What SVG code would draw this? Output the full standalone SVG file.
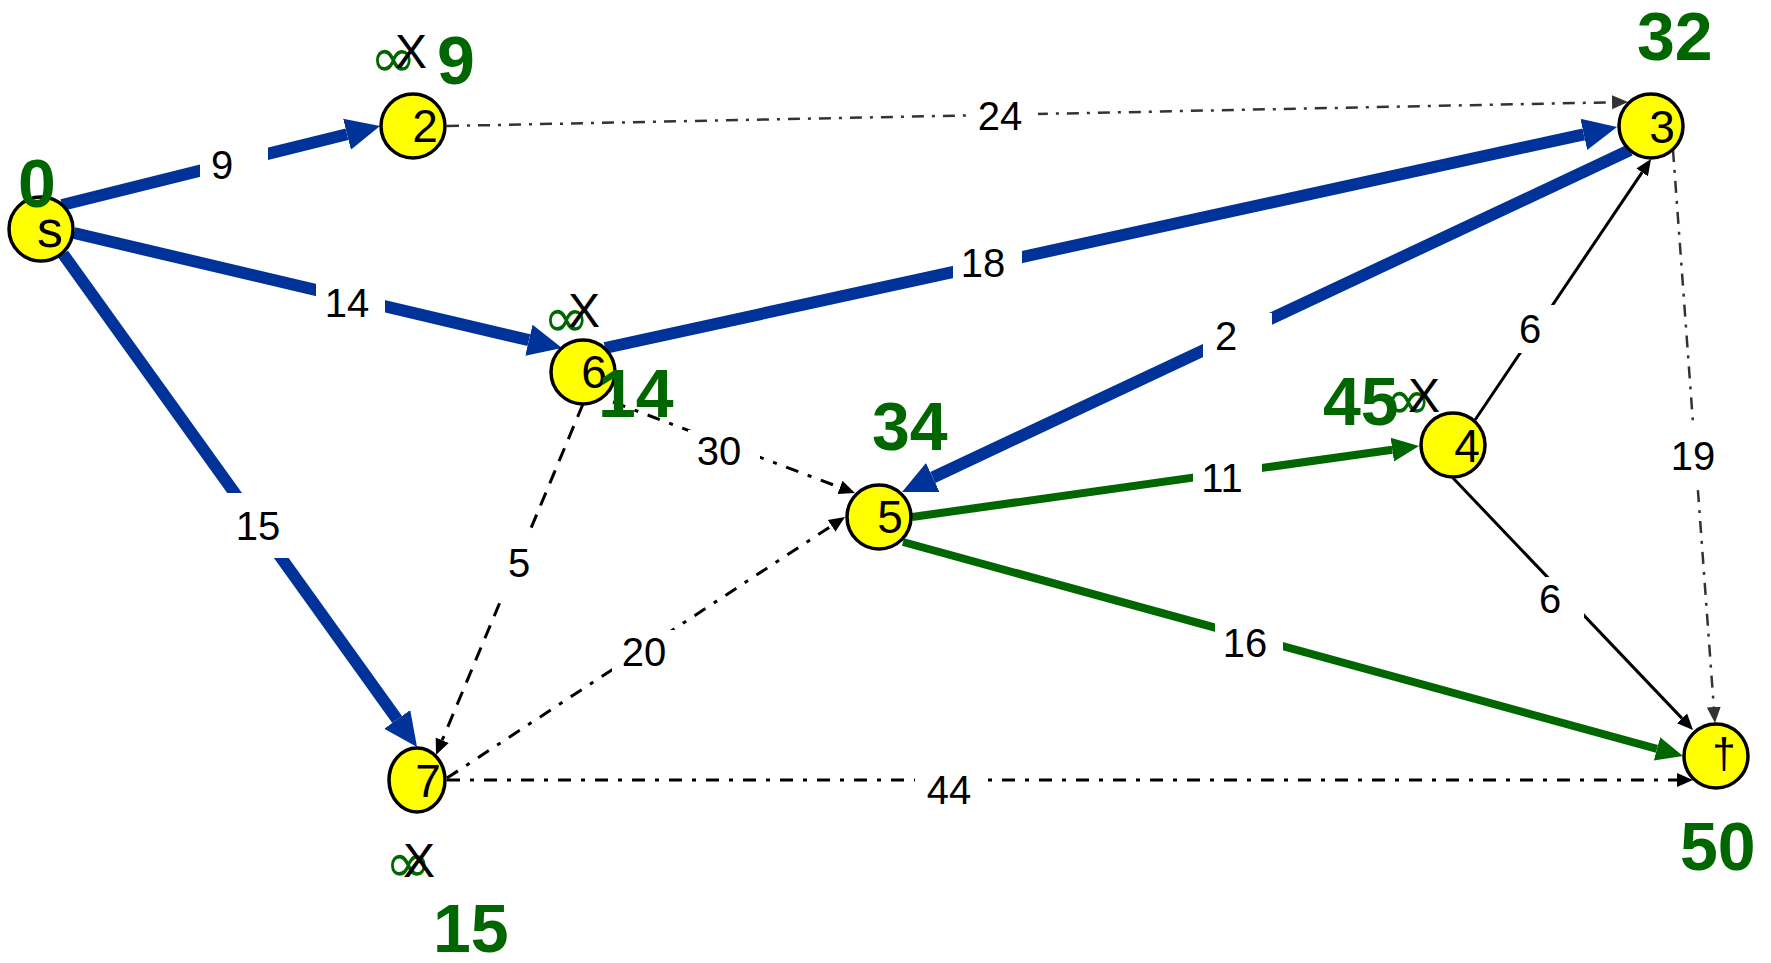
<svg xmlns="http://www.w3.org/2000/svg" width="1771" height="963" viewBox="0 0 1771 963">
  <defs>
    <style>
      text { font-family: "Liberation Sans", Arial, sans-serif; }
      .e { fill: none; }
      .blue { stroke: #003399; stroke-width: 12; }
      .green { stroke: #006600; stroke-width: 8; }
      .solid { stroke: #000; stroke-width: 3; }
      .dashdot { stroke: #000; stroke-width: 3; stroke-dasharray: 13 10 4 10; }
      .graydd { stroke: #333; stroke-width: 2.5; stroke-dasharray: 12 8 3 8; }
      .dashed { stroke: #000; stroke-width: 3; stroke-dasharray: 14 10; }
      .lblbg { fill: #fff; }
      .elabel { font-size: 40px; fill: #000; text-anchor: middle; }
      .node circle, .node ellipse { fill: #FFFF00; stroke: #000; stroke-width: 3.5; }
      .nlabel { font-size: 46px; fill: #000; text-anchor: middle; }
      .dist { font-size: 68px; font-weight: bold; fill: #006600; }
      .inf { font-family: "DejaVu Sans", sans-serif; font-size: 56px; fill: #006600; }
      .cross { font-size: 48px; fill: #000; }
    </style>
    <marker id="ab" markerUnits="userSpaceOnUse" markerWidth="40" markerHeight="40" refX="0" refY="20" orient="auto" viewBox="0 0 40 40">
      <path d="M0,4 L34,20 L0,36 z" fill="#003399"/>
    </marker>
    <marker id="ag" markerUnits="userSpaceOnUse" markerWidth="30" markerHeight="30" refX="0" refY="15" orient="auto" viewBox="0 0 30 30">
      <path d="M0,3 L27,15 L0,27 z" fill="#006600"/>
    </marker>
    <marker id="ak" markerUnits="userSpaceOnUse" markerWidth="20" markerHeight="20" refX="0" refY="10" orient="auto" viewBox="0 0 20 20">
      <path d="M0,3 L16,10 L0,17 z" fill="#000"/>
    </marker>
    <marker id="agr" markerUnits="userSpaceOnUse" markerWidth="20" markerHeight="20" refX="0" refY="10" orient="auto" viewBox="0 0 20 20">
      <path d="M0,3 L16,10 L0,17 z" fill="#333"/>
    </marker>
  </defs>

  <rect width="1771" height="963" fill="#fff"/>

  <g id="connectors">
    <!-- shortest-path tree edges (blue) -->
    <line class="e blue" x1="62" y1="205" x2="347" y2="134.2" marker-end="url(#ab)"/>
    <line class="e blue" x1="74" y1="233" x2="528.9" y2="340.2" marker-end="url(#ab)"/>
    <line class="e blue" x1="63" y1="254" x2="397.2" y2="719.4" marker-end="url(#ab)"/>
    <line class="e blue" x1="605" y1="348" x2="1583.8" y2="134.3" marker-end="url(#ab)"/>
    <line class="e blue" x1="1630" y1="150" x2="932.8" y2="477.5" marker-end="url(#ab)"/>
    <!-- edges being relaxed (green) -->
    <line class="e green" x1="912" y1="517" x2="1392.3" y2="449.7" marker-end="url(#ag)"/>
    <line class="e green" x1="903" y1="542" x2="1657" y2="748.9" marker-end="url(#ag)"/>
    <!-- plain edges -->
    <line class="e solid" x1="1475" y1="420" x2="1642.1" y2="172.3" marker-end="url(#ak)"/>
    <line class="e solid" x1="1453" y1="478" x2="1682" y2="718.4" marker-end="url(#ak)"/>
    <line class="e graydd" x1="447" y1="126" x2="1612" y2="102.3" marker-end="url(#agr)"/>
    <line class="e graydd" x1="1673" y1="150" x2="1713.8" y2="707" marker-end="url(#agr)"/>
    <line class="e dashdot" x1="613" y1="402" x2="840" y2="487.4" marker-end="url(#ak)"/>
    <line class="e dashdot" x1="447" y1="778" x2="831.6" y2="525.8" marker-end="url(#ak)"/>
    <line class="e dashdot" x1="447" y1="780" x2="1677" y2="780" marker-end="url(#ak)"/>
    <line class="e dashed" x1="583" y1="404" x2="442.2" y2="740.2" marker-end="url(#ak)"/>

    <!-- edge weights on white boxes -->
    <g id="weights">
      <rect class="lblbg" x="200" y="145" width="68" height="40"/>
      <text class="elabel" x="222" y="179">9</text>
      <rect class="lblbg" x="316" y="280" width="69" height="45"/>
      <text class="elabel" x="347" y="317">14</text>
      <rect class="lblbg" x="224" y="493" width="68" height="65"/>
      <text class="elabel" x="258" y="540">15</text>
      <rect class="lblbg" x="490" y="530" width="60" height="65"/>
      <text class="elabel" x="519" y="577">5</text>
      <rect class="lblbg" x="688" y="430" width="72" height="42"/>
      <text class="elabel" x="719" y="465">30</text>
      <rect class="lblbg" x="612" y="630" width="68" height="45"/>
      <text class="elabel" x="644" y="666">20</text>
      <rect class="lblbg" x="966" y="96" width="72" height="40"/>
      <text class="elabel" x="1000" y="130">24</text>
      <rect class="lblbg" x="953" y="240" width="69" height="45"/>
      <text class="elabel" x="983" y="277">18</text>
      <rect class="lblbg" x="1203" y="313" width="69" height="47"/>
      <text class="elabel" x="1226" y="350">2</text>
      <rect class="lblbg" x="1193" y="455" width="69" height="45"/>
      <text class="elabel" x="1222" y="492">11</text>
      <rect class="lblbg" x="1498" y="305" width="68" height="48"/>
      <text class="elabel" x="1530" y="343">6</text>
      <rect class="lblbg" x="1660" y="425" width="68" height="63"/>
      <text class="elabel" x="1693" y="470">19</text>
      <rect class="lblbg" x="1516" y="577" width="68" height="44"/>
      <text class="elabel" x="1550" y="613">6</text>
      <rect class="lblbg" x="1215" y="618" width="68" height="48"/>
      <text class="elabel" x="1245" y="657">16</text>
      <rect class="lblbg" x="915" y="768" width="70" height="45"/>
      <text class="elabel" x="949" y="804">44</text>
    </g>
  </g>

  <g id="node-s" class="node">
    <circle cx="41" cy="229" r="32"/>
    <text class="nlabel" x="50" y="247" style="font-size:52px">s</text>
  </g>
  <g id="node-2" class="node">
    <circle cx="413" cy="126" r="32"/>
    <text class="nlabel" x="425" y="142">2</text>
  </g>
  <g id="node-3" class="node">
    <circle cx="1651" cy="126" r="32"/>
    <text class="nlabel" x="1662" y="143">3</text>
  </g>
  <g id="node-4" class="node">
    <circle cx="1453" cy="445" r="32"/>
    <text class="nlabel" x="1467" y="462">4</text>
  </g>
  <g id="node-5" class="node">
    <circle cx="879" cy="517" r="32"/>
    <text class="nlabel" x="890" y="533">5</text>
  </g>
  <g id="node-6" class="node">
    <circle cx="583" cy="372" r="32"/>
    <text class="nlabel" x="594" y="388">6</text>
  </g>
  <g id="node-7" class="node">
    <ellipse cx="417" cy="780" rx="28" ry="32"/>
    <text class="nlabel" x="428" y="797">7</text>
  </g>
  <g id="node-t" class="node">
    <circle cx="1716" cy="756" r="32"/>
    <text class="nlabel" x="1724" y="768" style="font-size:42px">†</text>
  </g>

  <!-- crossed-out infinite estimates -->
  <g id="marks">
    <text class="inf" x="370" y="77">∞</text>
    <text class="cross" x="395" y="68">X</text>
    <text class="inf" x="543" y="337">∞</text>
    <text class="cross" x="568" y="327">X</text>
    <text class="inf" x="1385" y="419">∞</text>
    <text class="cross" x="1408" y="412">X</text>
    <text class="inf" x="385" y="882">∞</text>
    <text class="cross" x="403" y="877">X</text>
  </g>

  <!-- final distances -->
  <g id="distances">
    <text class="dist" x="18" y="207">0</text>
    <text class="dist" x="437" y="84">9</text>
    <text class="dist" x="1637" y="60">32</text>
    <text class="dist" x="598" y="417">14</text>
    <text class="dist" x="872" y="450">34</text>
    <text class="dist" x="1323" y="425">45</text>
    <text class="dist" x="433" y="952">15</text>
    <text class="dist" x="1680" y="870">50</text>
  </g>
</svg>
